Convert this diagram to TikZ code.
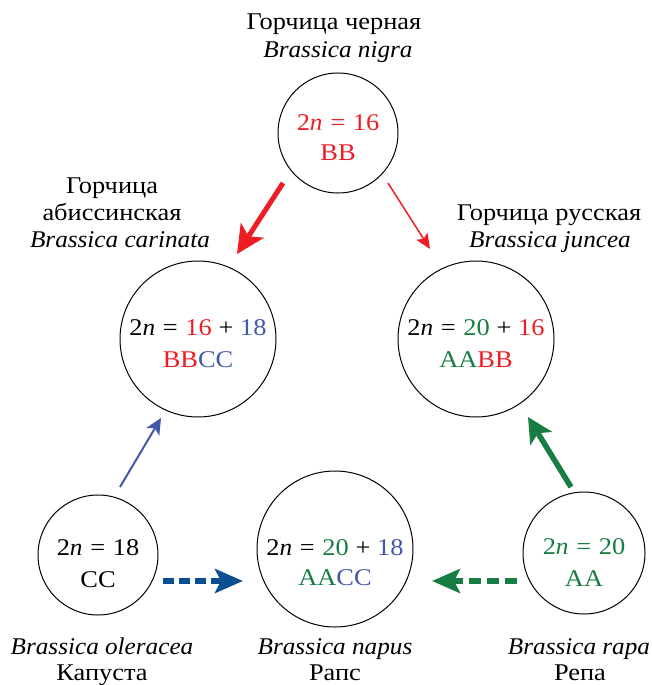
\documentclass[tikz,border=0pt]{standalone}
\usepackage{fontspec}
\setmainfont{Liberation Serif}[FakeStretch=1.1, ItalicFeatures={FakeStretch=1.05}]
\usetikzlibrary{arrows.meta}
\definecolor{cred}{HTML}{EE1D23}
\definecolor{cblue}{HTML}{4258A8}
\definecolor{cnavy}{HTML}{0B4F93}
\definecolor{cgreen}{HTML}{177D42}
\newcommand{\nv}{\textit{n}}
\newcommand{\eqs}{\hspace{0.32em}=\hspace{0.32em}}
\newcommand{\pls}{\hspace{0.28em}+\hspace{0.28em}}
\begin{document}
\begin{tikzpicture}[x=1pt,y=-1pt,
  circ/.style={draw=black, circle, line width=1pt, minimum size=#1, inner sep=0pt},
  txt/.style={anchor=base, inner sep=0pt, font=\fontsize{24}{28}\selectfont},
  lbl/.style={anchor=base, inner sep=0pt, font=\fontsize{24}{28}\selectfont},
  thickred/.style={draw=cred, line width=5pt, -{Stealth[length=28pt,width=27pt,inset=7pt]}},
  thinred/.style={draw=cred, line width=1.5pt, -{Stealth[length=15pt,width=13pt,inset=3pt]}},
  thinblue/.style={draw=cblue, line width=2pt, -{Stealth[length=16pt,width=15pt,inset=4pt]}},
  thickgreen/.style={draw=cgreen, line width=5.5pt, -{Stealth[length=25pt,width=25pt,inset=6pt]}},
  dashnavy/.style={draw=cnavy, line width=6pt, dash pattern=on 11pt off 5pt, -{Stealth[length=28pt,width=24pt,inset=6pt]}},
  dashgreen/.style={draw=cgreen, line width=6pt, dash pattern=on 12pt off 6pt, -{Stealth[length=28pt,width=24pt,inset=6pt]}}
]
\useasboundingbox (0,0) rectangle (652,685);

% circles
\node[circ=120] (top) at (338,133) {};
\node[circ=156] (car) at (198,339) {};
\node[circ=156] (jun) at (476,339) {};
\node[circ=120] (ole) at (98,555) {};
\node[circ=156] (nap) at (335,549) {};
\node[circ=122] (rap) at (584,553) {};

% texts in circles
\node[txt, text=cred] (topa) at (338,130) {2\nv\eqs16};
\node[txt, text=cred] (topb) at (338,160) {BB};
\node[txt] (cara) at (198,335) {2\nv\eqs\textcolor{cred}{16}\pls\textcolor{cblue}{18}};
\node[txt] (carb) at (198,367) {\textcolor{cred}{BB}\textcolor{cblue}{CC}};
\node[txt] (juna) at (476,335) {2\nv\eqs\textcolor{cgreen}{20}\pls\textcolor{cred}{16}};
\node[txt] (junb) at (476,367) {\textcolor{cgreen}{AA}\textcolor{cred}{BB}};
\node[txt] (olea) at (98,555) {2\nv\eqs18};
\node[txt] (oleb) at (98,587) {CC};
\node[txt] (napa) at (335,555) {2\nv\eqs\textcolor{cgreen}{20}\pls\textcolor{cblue}{18}};
\node[txt] (napb) at (335,585) {\textcolor{cgreen}{AA}\textcolor{cblue}{CC}};
\node[txt, text=cgreen] (rapa) at (584,554) {2\nv\eqs20};
\node[txt, text=cgreen] (rapb) at (584,586) {AA};

% labels
\node[lbl] (l1) at (334,30) {Горчица черная};
\node[lbl] (l2) at (338,57) {\textit{Brassica nigra}};
\node[lbl] (l3) at (112,193) {Горчица};
\node[lbl] (l4) at (112,220) {абиссинская};
\node[lbl] (l5) at (120,247) {\textit{Brassica carinata}};
\node[lbl] (l6) at (549,220) {Горчица русская};
\node[lbl] (l7) at (550,247) {\textit{Brassica juncea}};
\node[lbl] (l8) at (102,654) {\textit{Brassica oleracea}};
\node[lbl] (l9) at (102,680) {Капуста};
\node[lbl] (l10) at (335,654) {\textit{Brassica napus}};
\node[lbl] (l11) at (335,680) {Рапс};
\node[lbl] (l12) at (579,654) {\textit{Brassica rapa}};
\node[lbl] (l13) at (580,680) {Репа};

% arrow end points
\coordinate (r1s) at (283,183); \coordinate (r1e) at (237,254);
\coordinate (r2s) at (388,183); \coordinate (r2e) at (430,249);
\coordinate (b1s) at (120,487); \coordinate (b1e) at (161,418);
\coordinate (g1s) at (571,487); \coordinate (g1e) at (528,417);
\coordinate (nds) at (163,581); \coordinate (nde) at (243,581);
\coordinate (gds) at (517,581); \coordinate (gde) at (432,581);

\draw[thickred] (r1s) -- (r1e);
\draw[thinred] (r2s) -- (r2e);
\draw[thinblue] (b1s) -- (b1e);
\draw[thickgreen] (g1s) -- (g1e);
\draw[dashnavy] (nds) -- (nde);
\draw[dashgreen] (gds) -- (gde);
\end{tikzpicture}
\end{document}
